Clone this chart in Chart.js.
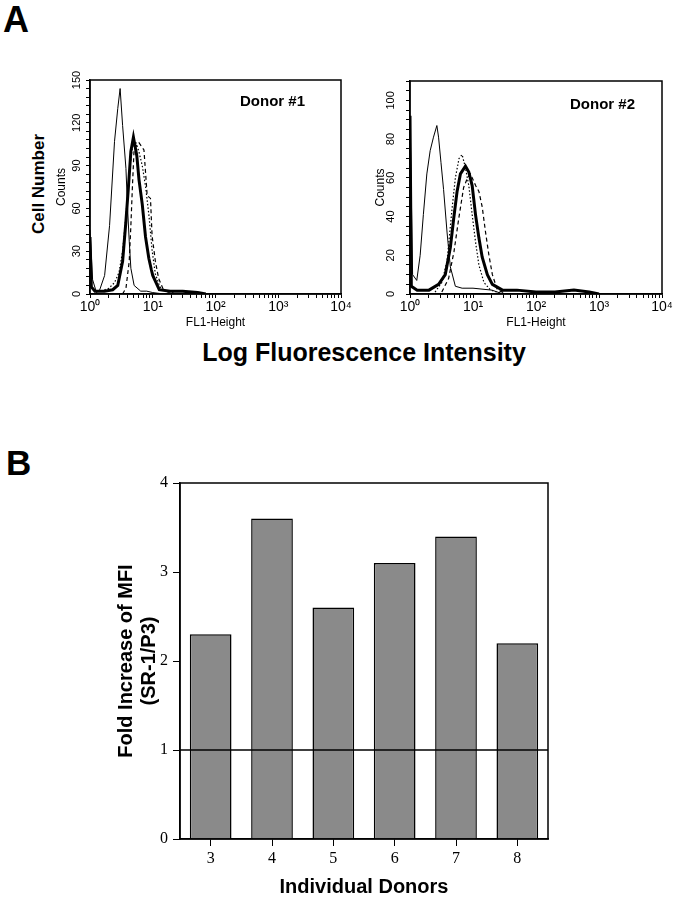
<!DOCTYPE html>
<html>
<head>
<meta charset="utf-8">
<script src="https://cdn.jsdelivr.net/npm/chart.js@4.4.1/dist/chart.umd.min.js"></script>
<style>
  body { margin: 0; background: #fff; }
  #page { position: relative; width: 678px; height: 900px; overflow: hidden; font-family: 'Liberation Sans', Arial, sans-serif; }
  canvas { position: absolute; }
  .lbl { position: absolute; font-weight: bold; line-height: 1; white-space: nowrap; color: #000; }
</style>
</head>
<body>
<div id="page">
  <div class="lbl" style="left:3px; top:2px; font-size:36px;">A</div>
  <div class="lbl" style="left:6px; top:445px; font-size:35px;">B</div>
  <div class="lbl" style="left:38px; top:184px; font-size:17px; transform: translate(-50%,-50%) rotate(-90deg);">Cell Number</div>
  <div class="lbl" style="left:364px; top:352px; font-size:25px; transform: translate(-50%,-50%);">Log Fluorescence Intensity</div>
  <canvas id="donor1" width="353" height="280" style="left:0; top:60px;"></canvas>
  <canvas id="donor2" width="330" height="280" style="left:345px; top:60px;"></canvas>
  <canvas id="mfi" width="678" height="440" style="left:0; top:460px;"></canvas>
</div>
<script>
Chart.defaults.font.family = "'Liberation Sans', Arial, sans-serif";
Chart.defaults.color = '#000';
Chart.defaults.animation = false;

/* ---- panel A : FL1 histograms ---- */
const flTickValues = [1, 10, 100, 1000, 10000];
const flTickLabels = ['10⁰', '10¹', '10²', '10³', '10⁴'];

// donor #1
const d1CountTicks = [0, 30, 60, 90, 120, 150];
const d1IsoX = [1, 1.1, 1.27, 1.43, 1.71, 2.05, 2.46, 2.77, 3.02, 3.31, 3.74, 3.97, 4.22, 4.48, 5.05, 6.43, 8, 10, 15, 30];
const d1IsoY = [45, 10, 1, 3, 13, 48, 107, 130, 144, 118, 88, 60, 37, 18, 6, 2, 2, 1, 0, 0];
const d1DotX = [1.5, 2.0, 2.46, 2.9, 3.31, 3.74, 4.22, 4.75, 5.3, 6.0, 6.8, 7.7, 8.7, 9.8, 11, 13, 16, 25];
const d1DotY = [2, 4, 8, 15, 30, 55, 85, 103, 107, 100, 90, 75, 55, 30, 14, 5, 2, 0];
const d1DashX = [3.3, 3.74, 4.22, 4.48, 4.75, 5.05, 6.04, 7.24, 8.15, 9.2, 9.75, 11, 12.4, 14.8, 20];
const d1DashY = [0, 4, 23, 48, 76, 102, 106, 101, 69, 67, 41, 23, 11, 3, 0];
const d1SrX = [1, 1.05, 1.2, 1.7, 2.3, 2.77, 3.31, 3.74, 4.11, 4.48, 4.92, 5.57, 6.04, 6.8, 7.67, 8.66, 9.5, 10, 12.7, 18.9, 30, 52, 70];
const d1SrY = [40, 5, 2, 2, 3, 6, 23, 51, 76, 100, 110, 97, 80, 63, 40, 25, 17, 13, 3, 2, 2, 1, 0];

// donor #2
const d2CountTicks = [0, 20, 40, 60, 80, 100];
const d2IsoX = [1, 1.1, 1.28, 1.45, 1.63, 1.85, 2.09, 2.36, 2.67, 2.84, 3.1, 3.41, 3.87, 4.37, 5.25, 6.72, 10, 20, 30];
const d2IsoY = [92, 10, 7, 20, 41, 62, 74, 81, 87, 81, 68, 54, 32, 14, 4, 3, 3, 2, 0];
const d2DotX = [2.5, 3.21, 3.87, 4.65, 5.25, 6.0, 6.72, 7.6, 8.58, 9.7, 10.96, 12.4, 14.9, 19, 30];
const d2DotY = [1, 6, 17, 44, 60, 70, 72, 65, 56, 41, 27, 15, 6, 2, 0];
const d2DashX = [3.2, 4.1, 5.0, 5.94, 7.1, 8.2, 9.12, 11, 12.4, 14, 15.8, 17.9, 20.3, 24.4, 35];
const d2DashY = [1, 8, 22, 39, 55, 60, 62, 56, 53, 45, 32, 20, 10, 2, 0];
const d2SrX = [1, 1.05, 1.3, 2, 2.84, 3.63, 4.37, 4.94, 5.59, 6.31, 7.59, 8.58, 9.7, 10.96, 12.4, 14, 16.9, 20.3, 29.4, 50, 100, 200, 400, 700, 1000];
const d2SrY = [92, 4, 2, 2, 5, 10, 24, 39, 53, 62, 66, 63, 56, 41, 29, 19, 10, 5, 2, 2, 1, 1, 2, 1, 0];

/* ---- panel B : fold increase of MFI ---- */
const donors = ['3', '4', '5', '6', '7', '8'];
const foldIncrease = [2.3, 3.6, 2.6, 3.1, 3.4, 2.2];
const foldTicks = [0, 1, 2, 3, 4];
const foldBaseline = 1;

function pts(xs, ys) {
  return xs.map((x, i) => ({ x: x, y: ys[i] }));
}

// box round the plot area
const frame = {
  id: 'frame',
  afterDatasetsDraw(chart) {
    const { ctx, chartArea: a } = chart;
    ctx.save();
    ctx.strokeStyle = '#000';
    ctx.lineWidth = 1.5;
    ctx.strokeRect(a.left, a.top, a.right - a.left, a.bottom - a.top);
    ctx.restore();
  }
};

// "Donor #n" text inside the plot
const cornerLabel = {
  id: 'cornerLabel',
  afterDraw(chart, args, opts) {
    const { ctx, chartArea: a } = chart;
    ctx.save();
    ctx.font = "bold 15px 'Liberation Sans', Arial, sans-serif";
    ctx.fillStyle = '#000';
    ctx.textAlign = 'right';
    ctx.textBaseline = 'middle';
    ctx.fillText(opts.text, a.right - opts.right, a.top + opts.top);
    ctx.restore();
  }
};

// horizontal line at fold = 1, over the bars
const refLine = {
  id: 'refLine',
  afterDatasetsDraw(chart, args, opts) {
    const { ctx, chartArea: a } = chart;
    const y = chart.scales.y.getPixelForValue(opts.value);
    ctx.save();
    ctx.strokeStyle = '#000';
    ctx.lineWidth = 1.5;
    ctx.beginPath();
    ctx.moveTo(a.left, y);
    ctx.lineTo(a.right, y);
    ctx.stroke();
    ctx.restore();
  }
};

function histChart(id, sets, yMax, yStep, yTicks, label, opt) {
  new Chart(document.getElementById(id), {
    type: 'scatter',
    data: {
      datasets: [
        { data: pts(sets.isoX, sets.isoY), borderColor: '#000', borderWidth: 1 },
        { data: pts(sets.dotX, sets.dotY), borderColor: '#000', borderWidth: 1.2, borderDash: [1.5, 2] },
        { data: pts(sets.dashX, sets.dashY), borderColor: '#000', borderWidth: 1.2, borderDash: [4, 3] },
        { data: pts(sets.srX, sets.srY), borderColor: '#000', borderWidth: 3 }
      ]
    },
    options: {
      responsive: false,
      showLine: true,
      elements: { point: { radius: 0 }, line: { tension: 0 } },
      layout: { padding: opt.padding },
      plugins: {
        legend: { display: false },
        tooltip: { enabled: false },
        cornerLabel: { text: label, right: opt.labelRight, top: opt.labelTop }
      },
      scales: {
        x: {
          type: 'logarithmic',
          min: 1,
          max: 10000,
          afterFit: (s) => { s.height = 46; },
          afterBuildTicks: (s) => {
            s.ticks = s.ticks.filter(t => {
              const m = t.value / Math.pow(10, Math.floor(Math.log10(t.value) + 1e-9));
              return Math.abs(m - Math.round(m)) < 1e-6;
            });
          },
          border: { color: '#000', width: 1.5 },
          grid: { drawOnChartArea: false, tickLength: 4, tickColor: '#000' },
          ticks: {
            autoSkip: false,
            maxRotation: 0,
            padding: 1,
            font: { size: 14 },
            callback: (v) => {
              const i = flTickValues.findIndex(t => Math.abs(t - v) < 1e-6);
              return i >= 0 ? flTickLabels[i] : '';
            }
          },
          title: { display: true, text: 'FL1-Height', font: { size: 12 }, padding: { top: 0, bottom: 10 } }
        },
        y: {
          min: 0,
          max: yMax,
          afterFit: (s) => { s.width = opt.yWidth; },
          border: { color: '#000', width: 1.5 },
          grid: { drawOnChartArea: false, tickLength: 4, tickColor: '#000' },
          ticks: {
            stepSize: yStep,
            autoSkip: false,
            minRotation: 90,
            maxRotation: 90,
            crossAlign: 'center',
            padding: opt.tickPad,
            font: { size: 11 },
            callback: (v) => (yTicks.includes(v) ? String(v) : '')
          },
          title: { display: true, text: 'Counts', font: { size: 12 }, padding: { top: opt.titlePad, bottom: 0 } }
        }
      }
    },
    plugins: [frame, cornerLabel]
  });
}

histChart('donor1',
  { isoX: d1IsoX, isoY: d1IsoY, dotX: d1DotX, dotY: d1DotY, dashX: d1DashX, dashY: d1DashY, srX: d1SrX, srY: d1SrY },
  150, 6, d1CountTicks, 'Donor #1',
  { padding: { left: 50, top: 20, right: 12, bottom: 0 }, yWidth: 40, tickPad: 0, titlePad: 4, labelRight: 36, labelTop: 22 });

histChart('donor2',
  { isoX: d2IsoX, isoY: d2IsoY, dotX: d2DotX, dotY: d2DotY, dashX: d2DashX, dashY: d2DashY, srX: d2SrX, srY: d2SrY },
  110, 5, d2CountTicks, 'Donor #2',
  { padding: { left: 24, top: 21, right: 13, bottom: 0 }, yWidth: 41, tickPad: 6, titlePad: 4, labelRight: 27, labelTop: 24 });

new Chart(document.getElementById('mfi'), {
  type: 'bar',
  data: {
    labels: donors,
    datasets: [{
      data: foldIncrease,
      backgroundColor: '#8a8a8a',
      borderColor: '#000',
      borderWidth: 1.5,
      categoryPercentage: 1,
      barPercentage: 0.68
    }]
  },
  options: {
    responsive: false,
    layout: { padding: { left: 111, top: 23, right: 130, bottom: 0 } },
    plugins: {
      legend: { display: false },
      tooltip: { enabled: false },
      refLine: { value: foldBaseline }
    },
    scales: {
      x: {
        afterFit: (s) => { s.height = 61; },
        border: { color: '#000', width: 1.5 },
        grid: { offset: false, drawOnChartArea: false, tickLength: 7, tickColor: '#000' },
        ticks: { padding: 3, font: { family: "'Liberation Serif', 'Times New Roman', serif", size: 16 } },
        title: { display: true, text: 'Individual Donors', font: { size: 20, weight: 'bold' }, padding: { top: 0, bottom: 1 } }
      },
      y: {
        min: 0,
        max: 4,
        afterFit: (s) => { s.width = 69; },
        afterBuildTicks: (s) => { s.ticks = foldTicks.map(v => ({ value: v })); },
        border: { color: '#000', width: 1.5 },
        grid: { drawOnChartArea: false, tickLength: 7, tickColor: '#000' },
        ticks: { padding: 5, font: { family: "'Liberation Serif', 'Times New Roman', serif", size: 16 } },
        title: {
          display: true,
          text: ['Fold Increase of MFI', '(SR-1/P3)'],
          font: { size: 20, weight: 'bold', lineHeight: 1.15 },
          padding: { top: 4, bottom: 0 }
        }
      }
    }
  },
  plugins: [frame, refLine]
});
</script>
</body>
</html>
